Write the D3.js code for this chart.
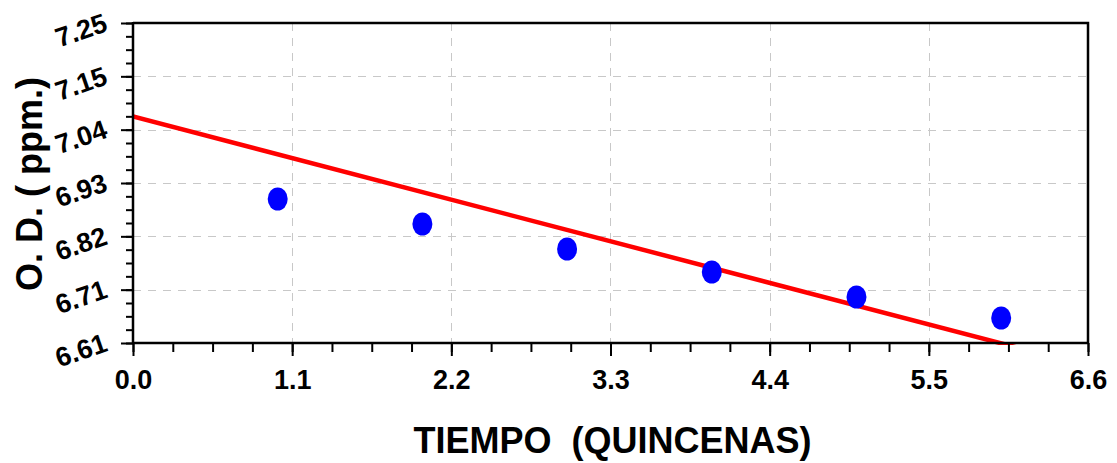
<!DOCTYPE html>
<html>
<head>
<meta charset="utf-8">
<script src="https://cdn.jsdelivr.net/npm/d3@7"></script>
<style>
  body { margin: 0; background: #fff; }
  svg { display: block; font-family: "Liberation Sans", Arial, sans-serif; }
</style>
</head>
<body>
<div class="content-container"></div>
<script>
  // data
  const tiempo = [1, 2, 3, 4, 5, 6];
  const odValues = [6.898, 6.848, 6.798, 6.752, 6.702, 6.66];
  const fitX = [0, 6.11];
  const fitY = [7.063, 6.601];
  const xTickLabels = ["0.0", "1.1", "2.2", "3.3", "4.4", "5.5", "6.6"];
  const yTickLabels = ["6.61", "6.71", "6.82", "6.93", "7.04", "7.15", "7.25"];

  const width = 1117;
  const height = 463;
  const plotLeft = 133, plotRight = 1088, plotTop = 23, plotBottom = 343;
  const xMax = 6.6, yMin = 6.61, yMax = 7.25;

  const xScale = d3.scaleLinear().domain([0, xMax]).range([plotLeft, plotRight]);
  const yScale = d3.scaleLinear().domain([yMin, yMax]).range([plotBottom, plotTop]);

  const xMajor = xTickLabels.map((d, i) => i * xMax / (xTickLabels.length - 1));
  const yMajor = yTickLabels.map((d, i) => yMin + i * (yMax - yMin) / (yTickLabels.length - 1));
  const xMinor = d3.range(0, 25).map(i => i * xMax / 24);
  const yMinor = d3.range(0, 25).map(i => yMin + i * (yMax - yMin) / 24);

  const chart = d3.select(".content-container")
    .append("svg")
    .attr("width", width)
    .attr("height", height);

  //GRID

  chart.append("g")
    .selectAll("line")
    .data(xMajor.slice(1, -1))
    .enter()
    .append("line")
    .attr("x1", d => Math.round(xScale(d)) + 0.5)
    .attr("x2", d => Math.round(xScale(d)) + 0.5)
    .attr("y1", plotTop)
    .attr("y2", plotBottom)
    .attr("stroke", "#c8c8c8")
    .attr("stroke-dasharray", "8,7");

  chart.append("g")
    .selectAll("line")
    .data(yMajor.slice(1, -1))
    .enter()
    .append("line")
    .attr("x1", plotLeft)
    .attr("x2", plotRight)
    .attr("y1", d => Math.round(yScale(d)) + 0.5)
    .attr("y2", d => Math.round(yScale(d)) + 0.5)
    .attr("stroke", "#c8c8c8")
    .attr("stroke-dasharray", "8,7");

  //FIT LINE

  chart.append("clipPath")
    .attr("id", "plotclip")
    .append("rect")
    .attr("x", plotLeft)
    .attr("y", plotTop)
    .attr("width", plotRight - plotLeft)
    .attr("height", plotBottom - plotTop + 2);

  chart.append("path")
    .datum(fitX.map((d, i) => [d, fitY[i]]))
    .attr("clip-path", "url(#plotclip)")
    .attr("fill", "none")
    .attr("stroke", "#ff0000")
    .attr("stroke-width", 4.5)
    .attr("d", d3.line().x(d => xScale(d[0])).y(d => yScale(d[1])));

  //POINTS

  chart.append("g")
    .selectAll("ellipse")
    .data(tiempo)
    .enter()
    .append("ellipse")
    .attr("cx", d => xScale(d))
    .attr("cy", (d, i) => yScale(odValues[i]))
    .attr("rx", 10)
    .attr("ry", 11.5)
    .attr("fill", "#0000ff");

  //AXES

  // minor ticks, own groups so the major axis call does not remove them
  chart.append("g")
    .attr("transform", "translate(0," + plotBottom + ")")
    .call(d3.axisBottom(xScale).tickValues(xMinor).tickSize(9).tickSizeOuter(0).tickFormat(""))
    .call(g => g.select(".domain").remove())
    .selectAll("line").attr("stroke", "#000").attr("stroke-width", 2);

  chart.append("g")
    .attr("transform", "translate(" + plotLeft + ",0)")
    .call(d3.axisLeft(yScale).tickValues(yMinor).tickSize(7).tickSizeOuter(0).tickFormat(""))
    .call(g => g.select(".domain").remove())
    .selectAll("line").attr("stroke", "#000").attr("stroke-width", 2);

  const xAxis = chart.append("g")
    .attr("transform", "translate(0," + plotBottom + ")")
    .call(d3.axisBottom(xScale).tickValues(xMajor).tickSize(13).tickSizeOuter(0)
      .tickFormat((d, i) => xTickLabels[i]))
    .attr("font-size", 27)
    .attr("font-weight", "bold")
    .attr("font-family", "Liberation Sans, Arial, sans-serif");
  xAxis.selectAll("line").attr("stroke", "#000").attr("stroke-width", 2);
  xAxis.select(".domain").attr("stroke-width", 2.5).attr("d", "M" + (plotLeft - 1) + ",0H" + (plotRight + 1));
  xAxis.selectAll("text")
    .attr("y", 46)
    .attr("dy", 0)
    .attr("fill", "#000");

  const yAxis = chart.append("g")
    .attr("transform", "translate(" + plotLeft + ",0)")
    .call(d3.axisLeft(yScale).tickValues(yMajor).tickSize(12).tickSizeOuter(0)
      .tickFormat((d, i) => yTickLabels[i]))
    .attr("font-size", 27)
    .attr("font-weight", "bold")
    .attr("font-family", "Liberation Sans, Arial, sans-serif");
  yAxis.selectAll("line").attr("stroke", "#000").attr("stroke-width", 2);
  yAxis.select(".domain").attr("stroke-width", 2.5).attr("d", "M0," + (plotTop - 1) + "V" + (plotBottom + 1));
  yAxis.selectAll("text")
    .attr("x", 0)
    .attr("dy", 0)
    .attr("text-anchor", "end")
    .attr("transform", "translate(-24,7) rotate(-19)")
    .attr("fill", "#000");

  // top and right border
  chart.append("path")
    .attr("d", "M" + plotLeft + "," + plotTop + "H" + plotRight + "V" + plotBottom)
    .attr("fill", "none")
    .attr("stroke", "#000")
    .attr("stroke-width", 2.5);

  //TITLES

  chart.append("text")
    .attr("x", (plotLeft + plotRight) / 2 + 2)
    .attr("y", 453)
    .attr("text-anchor", "middle")
    .style("font-size", "36px")
    .style("font-weight", "bold")
    .style("white-space", "pre")
    .text("TIEMPO  (QUINCENAS)");

  chart.append("text")
    .attr("transform", "translate(42," + 184 + ") rotate(-90)")
    .attr("text-anchor", "middle")
    .style("font-size", "36px")
    .style("font-weight", "bold")
    .text("O. D. ( ppm.)");
</script>
</body>
</html>
